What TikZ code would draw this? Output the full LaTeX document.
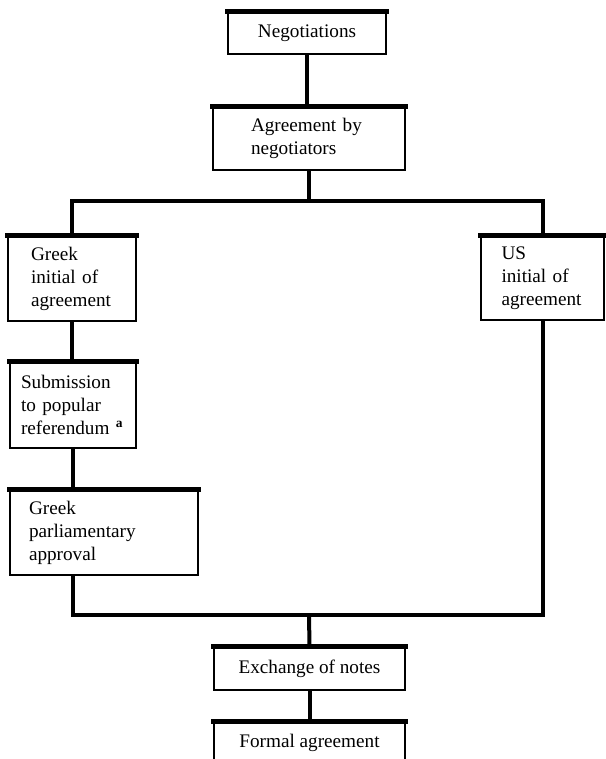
\documentclass[tikz,border=0pt]{standalone}
\usepackage{fontspec}
\setmainfont{Liberation Serif}
\usetikzlibrary{positioning,calc}

\begin{document}
\begin{tikzpicture}[x=1pt,y=-1pt,
  stage/.style={rectangle,draw,line width=1.1pt,inner sep=0pt,align=left,font=\fontsize{19.2}{23}\selectfont},
  link/.style={line width=4pt},
  topbar/.style={line width=4.4pt,line cap=rect}]
\useasboundingbox (0,0) rectangle (605,759);

\node(neg)[stage,minimum width=158,minimum height=42] at (307,33) {Negotiations};
\node(agr)[stage,minimum width=192,minimum height=63,text width=116] at (309,138.5) {Agreement by\\negotiators};
\node(gri)[stage,minimum width=128,minimum height=85,text width=82] at (72,278.5) {Greek\\initial of\\agreement};
\node(usi)[stage,minimum width=123,minimum height=84,text width=82] at (542.5,278) {US\\initial of\\agreement};
\node(sub)[stage,minimum width=126,minimum height=86,text width=104] at (73,405) {Submission\\to popular\\referendum \textsuperscript{\textbf{a}}};
\node(parl)[stage,minimum width=188,minimum height=85,text width=150] at (104,532.5) {Greek\\parliamentary\\approval};
\node(exch)[stage,minimum width=191,minimum height=43] at (309.5,668.5) {Exchange of notes};
\node(formal)[stage,minimum width=191,minimum height=42] at (309.5,743) {Formal agreement};

\coordinate(split) at (309,201);
\coordinate(join) at (309,615);

\draw [topbar] (neg.north west) -- (neg.north east);
\draw [topbar] (agr.north west) -- (agr.north east);
\draw [topbar] (gri.north west) -- (gri.north east);
\draw [topbar] (usi.north west) -- (usi.north east);
\draw [topbar] (sub.north west) -- (sub.north east);
\draw [topbar] (parl.north west) -- (parl.north east);
\draw [topbar] (exch.north west) -- (exch.north east);
\draw [topbar] (formal.north west) -- (formal.north east);

\draw [link] (neg.south) -- (neg.south |- agr.north);
\draw [link] (agr.south) -- (split);
\draw [link] (gri.north) |- (split) -| (usi.north);
\draw [link] (gri.south) -- (gri.south |- sub.north);
\draw [link] (sub.south) -- (sub.south |- parl.north);
\draw [link] (sub.south |- parl.south) |- (join) -| (usi.south);
\draw [link] (join) -- (exch.north);
\draw [link] (exch.south) -- (formal.north);
\end{tikzpicture}
\end{document}
